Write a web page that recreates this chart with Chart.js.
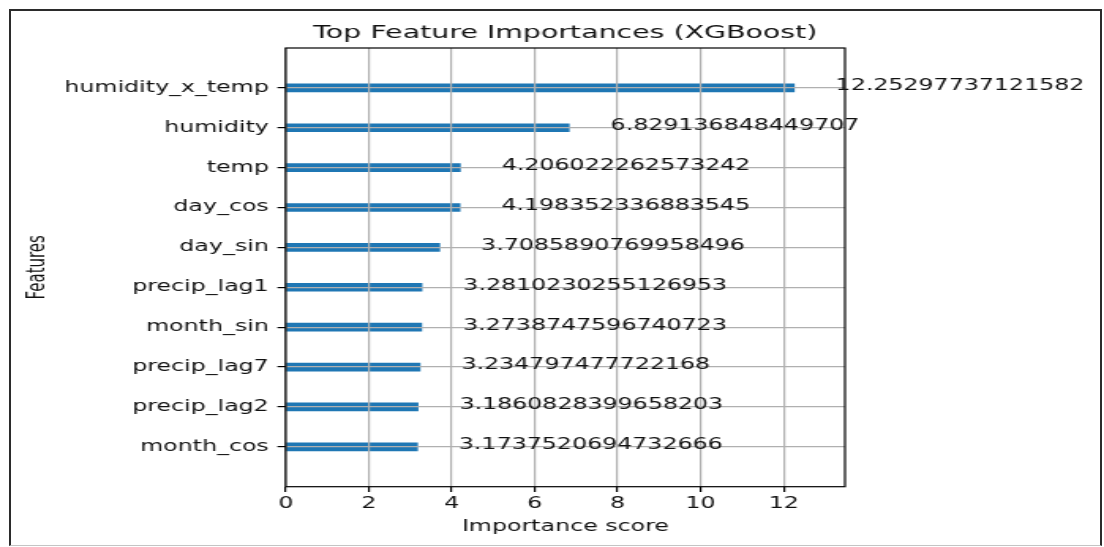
<!DOCTYPE html>
<html>
<head>
<meta charset="utf-8">
<title>Top Feature Importances (XGBoost)</title>
<script src="https://cdn.jsdelivr.net/npm/chart.js@4.4.1/dist/chart.umd.min.js"></script>
<style>
  html, body { margin: 0; padding: 0; background: #fff; }
  body { width: 1104px; height: 547px; position: relative; overflow: hidden; }
  /* the figure is drawn narrow and widened horizontally */
  #stage { position: absolute; left: 0; top: 0; width: 699px; height: 547px;
           transform: scaleX(1.5794); transform-origin: 0 0; }
  #frame { position: absolute; left: 9px; top: 9px; width: 1089px; height: 534px;
           border: 2px solid #2b2b2b; border-bottom: 1px solid #c4c4c4; pointer-events: none; }
</style>
</head>
<body>
<div id="stage"><canvas id="chart" width="699" height="547"></canvas></div>
<div id="frame"></div>
<script>
// Features, top to bottom
const features = [
  'humidity_x_temp', 'humidity', 'temp', 'day_cos', 'day_sin',
  'precip_lag1', 'month_sin', 'precip_lag7', 'precip_lag2', 'month_cos'
];
// Importance score of each feature
const importance = [
  12.25297737121582, 6.829136848449707, 4.206022262573242, 4.198352336883545,
  3.7085890769958496, 3.2810230255126953, 3.2738747596740723, 3.234797477722168,
  3.1860828399658203, 3.1737520694732666
];
const xTickValues = [0, 2, 4, 6, 8, 10, 12];
const xLimit = 13.478;           // axis runs to 110% of the largest score
const chartTitle = 'Top Feature Importances (XGBoost)';
const xTitle = 'Importance score';
const yTitle = 'Features';

const FONT = '"DejaVu Sans", sans-serif';
const TEXT = '#111';
const GRID = '#b0b0b0';

const extras = {
  id: 'extras',
  afterDraw(chart) {
    const { ctx, chartArea: a, scales: { x, y } } = chart;
    ctx.save();
    // frame around the axes
    ctx.strokeStyle = '#000';
    ctx.lineWidth = 1.2;
    ctx.strokeRect(a.left, a.top, a.right - a.left, a.bottom - a.top);
    // score written one unit to the right of each bar
    ctx.fillStyle = TEXT;
    ctx.font = '15px ' + FONT;
    ctx.textAlign = 'left';
    ctx.textBaseline = 'middle';
    importance.forEach((v, i) => {
      ctx.fillText(String(v), x.getPixelForValue(v + 1), y.getPixelForValue(i) - 1.5);
    });
    // title centred over the axes
    ctx.font = '18px ' + FONT;
    ctx.textAlign = 'center';
    ctx.textBaseline = 'alphabetic';
    ctx.fillText(chartTitle, (a.left + a.right) / 2, 38.3);
    ctx.restore();
  }
};

// grid drawn above the bars
const gridStyle = { z: 1, color: GRID, lineWidth: 1.2, drawTicks: true, tickLength: 5.25, tickColor: '#000', tickWidth: 1.2 };

new Chart(document.getElementById('chart'), {
  type: 'bar',
  data: {
    datasets: [{
      data: importance.map((v, i) => ({ x: v, y: i })),
      backgroundColor: '#1f77b4',
      borderWidth: 0,
      barThickness: 8
    }]
  },
  options: {
    indexAxis: 'y',
    responsive: false,
    animation: false,
    devicePixelRatio: 1,
    layout: { padding: { top: 48, right: 164, bottom: 0, left: 0 } },
    plugins: { legend: { display: false }, tooltip: { enabled: false }, title: { display: false } },
    scales: {
      x: {
        type: 'linear',
        min: 0,
        max: xLimit,
        afterBuildTicks: s => { s.ticks = xTickValues.map(v => ({ value: v })); },
        afterFit: s => { s.height = 60.3; },
        ticks: {
          includeBounds: false,
          color: TEXT,
          font: { family: FONT, size: 15 },
          padding: 2.8,
          maxRotation: 0,
          callback: v => String(v)
        },
        grid: { ...gridStyle },
        border: { display: false },
        title: { display: true, text: xTitle, color: TEXT, font: { family: FONT, size: 15 }, padding: { top: 0, bottom: 11 } }
      },
      y: {
        type: 'linear',
        reverse: true,
        min: -1,
        max: 10,
        offset: false,
        afterBuildTicks: s => { s.ticks = features.map((f, i) => ({ value: i })); },
        afterFit: s => { s.width = 180.9; },
        ticks: {
          color: TEXT,
          font: { family: FONT, size: 15 },
          padding: 5.5,
          callback: v => features[v]
        },
        grid: { ...gridStyle, offset: false },
        border: { display: false },
        title: { display: true, text: yTitle, color: TEXT, font: { family: FONT, size: 15 }, padding: { top: 15.1, bottom: 0 } }
      }
    }
  },
  plugins: [extras]
});
</script>
</body>
</html>
